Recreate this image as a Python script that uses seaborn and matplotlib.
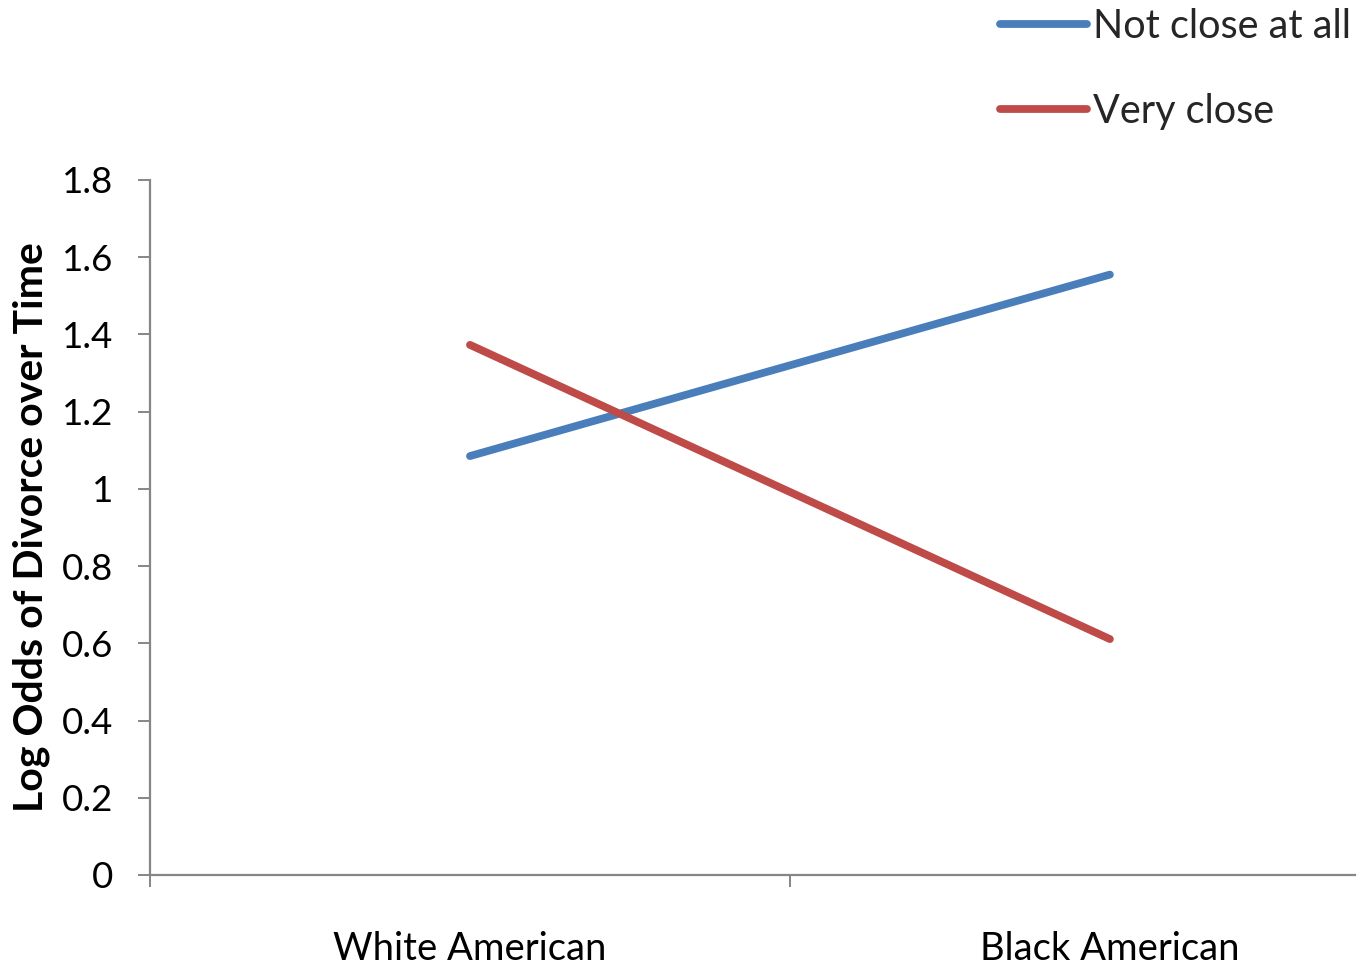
import matplotlib
matplotlib.use("Agg")
import matplotlib.pyplot as plt
import seaborn as sns
import pandas as pd

groups = ["White American", "Black American"]
series_names = ["Not close at all", "Very close"]
not_close = [1.085, 1.555]
very_close = [1.373, 0.611]
colors = ["#4A7EBB", "#BE4B48"]
y_ticks = [0, 0.2, 0.4, 0.6, 0.8, 1, 1.2, 1.4, 1.6, 1.8]
y_tick_labels = ["0", "0.2", "0.4", "0.6", "0.8", "1", "1.2", "1.4", "1.6", "1.8"]

df = pd.DataFrame({
    "group": groups * 2,
    "series": [series_names[0]] * 2 + [series_names[1]] * 2,
    "value": not_close + very_close,
})

sns.set_theme(style="white")
plt.rcParams["font.family"] = ["Lato", "DejaVu Sans"]

fig = plt.figure(figsize=(13.7, 9.73), dpi=100)
ax = fig.add_axes([150 / 1370, (973 - 875) / 973, (1355 - 150) / 1370, (875 - 180) / 973])

lw = 5.6
sns.lineplot(data=df, x="group", y="value", hue="series", palette=colors,
             linewidth=lw, sort=False, ax=ax, legend=True)
for ln in ax.lines:
    ln.set_solid_capstyle("round")

ax.set_xlim(-0.5, 1.383)
ax.set_ylim(0, 1.8)
ax.set_yticks(y_ticks)
ax.set_yticklabels(y_tick_labels)
ax.set_xticks([0, 1])
ax.set_xticklabels(groups)
ax.set_xticks([-0.5, 0.5], minor=True)

axis_color = "#868686"
for s in ["top", "right"]:
    ax.spines[s].set_visible(False)
for s in ["left", "bottom"]:
    ax.spines[s].set_color(axis_color)
    ax.spines[s].set_linewidth(1.6)

ax.tick_params(axis="y", which="major", direction="out", length=8.6, width=1.4,
               color=axis_color, pad=18, labelsize=26.5, labelcolor="black", left=True)
ax.tick_params(axis="x", which="major", length=0, pad=40, labelsize=27.5, labelcolor="black")
ax.tick_params(axis="x", which="minor", direction="out", length=8.6, width=1.4,
               color=axis_color, bottom=True)

ax.set_xlabel("")
ax.set_ylabel("Log Odds of Divorce over Time", fontsize=29.5, fontweight="bold", color="black")
ax.yaxis.set_label_coords(-0.083, 0.5)

handles, labels = ax.get_legend_handles_labels()
ax.get_legend().remove()
leg = fig.legend(handles, labels, loc="upper left", bbox_to_anchor=(1000 / 1370, 1.0 - 8 / 973),
                 frameon=False, fontsize=28.5, handlelength=2.2, handletextpad=0.15,
                 labelspacing=1.2, borderaxespad=0.0, borderpad=0.0)
for h in leg.get_lines():
    h.set_linewidth(lw)
    h.set_solid_capstyle("round")

fig.savefig("out.png", dpi=100)
